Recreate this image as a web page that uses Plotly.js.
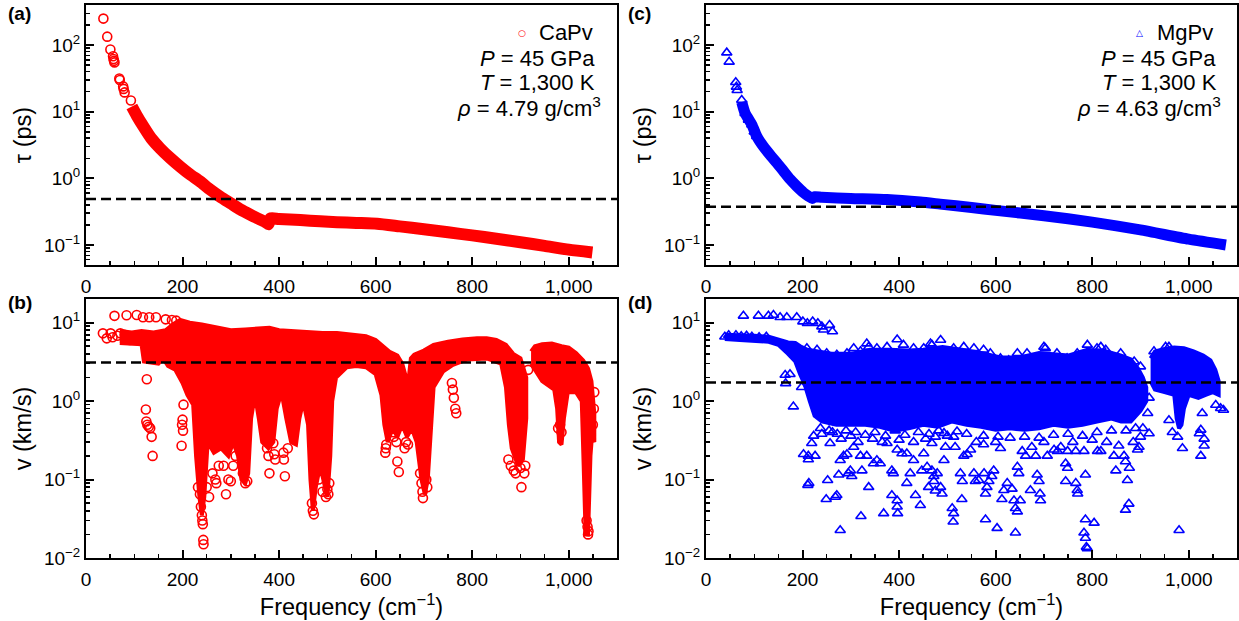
<!DOCTYPE html>
<html><head><meta charset="utf-8">
<script src="https://cdn.plot.ly/plotly-3.0.1.min.js"></script>
<style>html,body{margin:0;padding:0;background:#fff}#chart{width:1239px;height:621px}</style>
</head><body><div id="chart"></div>
<script>
// ---------- (a) CaPv lifetime ----------
const aSparseF = [36, 44, 50.5, 56, 57, 58, 59, 69, 70, 77, 78, 80, 93];
const aSparseT = [250, 134, 86, 68, 62, 58, 55, 31.6, 30, 24, 22, 19.5, 14.7];
const aCurveF = [95, 105, 119, 135, 153, 175, 195, 215, 236, 257, 278, 300, 320, 340, 361, 372, 378, 382, 400, 444, 485, 520, 560, 603, 650, 700, 750, 800, 850, 900, 950, 1000, 1049];
const aCurveT = [12, 8.8, 6.0, 4.0, 2.85, 2.0, 1.5, 1.15, 0.9, 0.68, 0.53, 0.42, 0.34, 0.285, 0.24, 0.22, 0.205, 0.25, 0.245, 0.237, 0.226, 0.22, 0.214, 0.208, 0.19, 0.172, 0.155, 0.139, 0.124, 0.11, 0.097, 0.085, 0.077];

// ---------- (c) MgPv lifetime ----------
const cSparseF = [43, 48, 61.6, 63, 64.5, 74, 81, 88, 95, 100, 105];
const cSparseT = [77, 56, 27.7, 23.6, 21, 15, 9.5, 7.5, 6.4, 5.0, 4.3];
const cCurveF = [74, 81, 95, 105, 119, 135, 147, 160, 174, 188, 202, 212, 220, 226, 240, 300, 375, 444, 485, 550, 600, 700, 800, 900, 1000, 1077];
const cCurveT = [14, 9.5, 6.4, 4.3, 3.0, 2.15, 1.7, 1.3, 0.97, 0.76, 0.61, 0.54, 0.50, 0.53, 0.52, 0.5, 0.48, 0.44, 0.41, 0.365, 0.33, 0.275, 0.22, 0.168, 0.122, 0.1];

// ---------- (b) CaPv group velocity: dense envelopes ----------
const bUp1F = [70, 95, 115, 140, 165, 180, 195, 215, 240, 270, 300, 330, 360, 380, 400, 430, 460, 490, 520, 550, 580, 600, 615, 630, 645, 655, 663, 668, 673, 680, 700, 720, 750, 780, 810, 830, 850, 870, 885, 900, 912];
const bUp1V = [7.8, 7.5, 7.8, 7.5, 8.0, 9.5, 10.8, 10.0, 9.5, 8.8, 8.0, 8.2, 8.3, 8.6, 8.0, 7.8, 7.5, 7.4, 7.4, 7.0, 6.7, 6.0, 5.0, 4.2, 3.8, 3.0, 2.0, 1.8, 3.5, 3.9, 4.4, 5.2, 5.7, 6.1, 6.3, 6.3, 6.0, 5.2, 4.0, 3.5, 2.0];
const bLo1F = [70, 115, 120, 150, 160, 170, 185, 200, 210, 222, 228, 235, 240, 245, 252, 265, 280, 295, 305, 315, 322, 330, 336, 342, 350, 358, 365, 378, 388, 395, 405, 415, 425, 435, 442, 450, 460, 465, 470, 476, 485, 492, 500, 506, 510, 518, 540, 560, 580, 600, 612, 618, 625, 635, 645, 655, 665, 675, 685, 695, 702, 708, 714, 720, 740, 760, 790, 830, 860, 870, 876, 882, 895, 905, 912];
const bLo1V = [5.5, 5.3, 3.2, 3.0, 3.5, 2.8, 2.5, 1.7, 1.2, 0.9, 0.2, 0.06, 0.035, 0.06, 0.3, 0.22, 0.25, 0.2, 0.3, 0.2, 0.1, 0.09, 0.12, 0.6, 1.2, 0.6, 0.3, 0.25, 0.3, 0.8, 1.3, 0.6, 0.3, 0.28, 0.6, 1.0, 0.5, 0.1, 0.04, 0.08, 0.15, 0.1, 0.06, 0.2, 1.0, 2.0, 2.7, 2.8, 2.7, 2.2, 1.2, 0.5, 0.3, 0.45, 0.35, 0.5, 0.35, 0.45, 0.3, 0.1, 0.065, 0.1, 0.4, 1.5, 2.4, 2.9, 3.4, 3.5, 3.0, 1.5, 0.5, 0.25, 0.15, 0.18, 0.6];
const bUp2F = [922, 930, 945, 965, 985, 1000, 1015, 1030, 1040, 1047, 1053];
const bUp2V = [4.3, 5.0, 5.3, 5.4, 5.0, 4.8, 4.1, 3.3, 2.6, 1.8, 0.7];
const bLo2F = [922, 945, 970, 976, 980, 985, 990, 998, 1015, 1027, 1031, 1035, 1040, 1045, 1048, 1053];
const bLo2V = [3.0, 1.8, 1.4, 0.8, 0.3, 0.28, 0.6, 1.3, 1.3, 1.0, 0.15, 0.02, 0.02, 0.2, 0.35, 0.3];
const bOutliers = [
 [59,12.2],[84,12.4],[105,12.5],[118,11.7],[131,11.7],[145,11.7],[165,11.0],[178,10.8],[187,10.6],
 [35,7.3],[43,6.3],[51,7.3],[55,6.5],[65,6.8],[71,7.3],[80,7.0],[91,6.0],
 [126,1.9],[124,0.78],[125,0.55],[127,0.5],[130,0.47],[133,0.45],[136,0.35],[138,0.2],
 [202,0.9],[200,0.58],[199,0.5],[201,0.42],[198,0.27],
 [232,0.08],[236,0.065],[238,0.045],[240,0.035],[241,0.03],[242,0.027],[243,0.017],[243.5,0.015],
 [250,0.08],[255,0.06],[262,0.12],[268,0.1],[270,0.09],[275,0.15],[285,0.15],[290,0.065],[295,0.1],[300,0.095],[305,0.15],[310,0.2],
 [325,0.12],[330,0.09],[334,0.095],
 [375,0.25],[378,0.2],[380,0.12],[390,0.21],[392,0.18],[388,0.29],
 [409,0.22],[410,0.18],[412,0.11],[418,0.25],
 [468,0.05],[470,0.04],[472,0.036],
 [482,0.1],[490,0.07],[497,0.06],[500,0.075],[502,0.065],[504,0.09],
 [620,0.22],[621,0.25],[622,0.28],
 [637,0.4],[638,0.35],[643,0.3],[645,0.17],[648,0.125],[660,0.25],[663,0.3],[667,0.28],
 [692,0.12],[695,0.09],[697,0.07],[698,0.058],[705,0.1],[707,0.08],
 [758,1.7],[760,1.4],[762,1.1],[765,0.8],[767,0.7],
 [875,0.18],[880,0.15],[886,0.13],[890,0.12],[900,0.14],[902,0.08],[908,0.12],[910,0.15],
 [916,2.5],
 [978,0.45],[982,0.5],[985,0.4],
 [1037,0.03],[1039,0.025],[1040,0.02],[1041,0.022],
 [1050,0.5],[1052,0.8],[1053,1.3]
];

// ---------- (d) MgPv group velocity: dense envelopes ----------
const dUp1F = [39, 70, 100, 130, 150, 170, 185, 195, 210, 230, 260, 300, 340, 380, 420, 450, 490, 530, 570, 610, 650, 690, 720, 750, 790, 830, 860, 880, 895, 905, 912];
const dUp1V = [7.0, 7.0, 6.8, 6.6, 6.0, 5.6, 5.5, 5.0, 4.5, 4.3, 4.0, 4.0, 4.5, 4.5, 4.4, 4.5, 4.9, 4.5, 4.1, 3.6, 3.6, 4.1, 4.0, 3.8, 4.5, 4.3, 3.8, 3.4, 2.6, 2.0, 1.5];
const dLo1F = [39, 70, 100, 130, 150, 170, 185, 195, 205, 215, 225, 240, 270, 300, 330, 360, 390, 420, 450, 480, 510, 540, 570, 600, 630, 660, 690, 720, 750, 780, 810, 840, 860, 880, 900, 912];
const dLo1V = [6.2, 6.0, 5.8, 5.7, 5.2, 4.0, 3.2, 2.2, 1.6, 1.0, 0.65, 0.55, 0.5, 0.5, 0.5, 0.47, 0.42, 0.45, 0.5, 0.47, 0.55, 0.5, 0.47, 0.43, 0.45, 0.43, 0.45, 0.5, 0.47, 0.5, 0.55, 0.6, 0.55, 0.55, 0.75, 1.0];
const dUp2F = [921, 930, 950, 970, 990, 1010, 1030, 1045, 1055, 1062];
const dUp2V = [3.5, 4.3, 4.6, 4.8, 4.7, 4.3, 3.8, 3.3, 2.5, 1.8];
const dLo2F = [921, 930, 950, 970, 975, 980, 985, 990, 1000, 1020, 1035, 1050, 1062];
const dLo2V = [1.8, 1.4, 1.3, 1.2, 0.6, 0.45, 0.5, 0.8, 1.2, 1.1, 1.2, 1.3, 1.2];
const dOutliers = [
 [77.5,12.2],[108.6,12.2],[129.3,12.2],[139.7,12.5],[153.5,11.7],[167.4,11.7],[188,11.7],[200.6,10.3],[210,9.8],[221,10.3],[231.7,9.8],[240,8.9],[243.4,8.1],[255.9,9.3],[262,7.7],
 [39,6.6],[47,6.9],[62,6.9],[73,6.7],[84,6.8],[95,6.6],[110,6.5],[125,6.6],
 [396,6.1],[333,5.4],[354,4.7],[486,6.0],[465,5.4],[534,4.9],[645,4.06],[665,4.06],[700,4.9],[790,5.2],[818,4.9],[859,4.06],[928,4.3],[952,4.9],[959,4.9],
 [209,4.7],[230,4.5],[250,4.06],[271,3.9],[292,4.06],[306,4.7],[320,4.3],[337,4.9],[375,4.9],[409,5.2],[430,4.7],[451,4.7],[468,5.2],
 [513,4.7],[555,4.7],[575,4.5],[589,4.06],[610,3.5],[627,3.3],[683,3.5],[703,4.7],[727,4.06],[748,3.5],[769,4.06],[810,4.7],[828,4.5],[887,3.2],[900,2.75],
 [164,2.15],[174,2.2],[165,1.68],[198,1.5],[181,0.85],[202,0.21],[212,0.2],[212,0.18],[226,0.2],[211,0.085],[213,0.09],[219,0.29],[223,0.36],
 [249,0.056],[252,0.098],[257,0.29],[268,0.06],[271,0.063],[275,0.115],[278,0.0226],[278,0.176],[285,0.2],[292,0.21],[295,0.12],[299,0.13],[302,0.11],[306,0.26],
 [320,0.2],[323,0.13],[321,0.034],[337,0.08],[333,0.2],[347,0.16],[354,0.176],[361,0.16],[368,0.037],[375,0.29],[385,0.063],[385,0.13],[388,0.12],
 [396,0.054],[396,0.045],[397,0.037],[396,0.24],[406,0.215],[416,0.215],[416,0.09],[423,0.12],[430,0.176],[434,0.063],[444,0.047],[447,0.13],
 [451,0.215],[458,0.145],[461,0.08],[468,0.29],[472,0.095],[475,0.072],[479,0.12],[468,0.13],[472,0.11],[486,0.08],[489,0.066],[496,0.26],[493,0.176],
 [513,0.35],[516,0.26],[527,0.12],[531,0.095],[510,0.043],[513,0.037],[512,0.029],[530,0.056],[534,0.2],[541,0.21],[548,0.24],[555,0.12],[558,0.095],
 [565,0.098],[576,0.12],[579,0.066],[582,0.08],[586,0.095],[579,0.031],[592,0.11],[596,0.13],[603,0.024],[613,0.056],[617,0.073],[624,0.09],
 [634,0.076],[638,0.054],[641,0.043],[645,0.039],[641,0.021],[645,0.145],[648,0.12],[651,0.054],[672,0.073],[686,0.115],[690,0.095],[692,0.066],[693,0.054],
 [683,0.2],[707,0.2],[721,0.24],[728,0.23],[749,0.23],[766,0.23],[783,0.23],[745,0.16],[749,0.14],[745,0.095],[766,0.09],[769,0.073],[770,0.066],
 [786,0.115],[786,0.031],[804,0.028],[783,0.021],[786,0.018],[788,0.0138],[790,0.0132],[811,0.23],[818,0.23],[849,0.13],[845,0.2],[866,0.2],[869,0.17],
 [873,0.098],[877,0.14],[869,0.041],[876,0.049],[894,0.24],[897,0.26],[918,0.386],[918,1.1],[915,0.7],
 [959,0.57],[966,0.4],[977,0.35],[987,0.25],[980,0.0226],[1022,0.386],[1025,0.43],[1028,0.7],[1025,0.2],[1032,0.27],[1032,0.33],[1056,0.89],[1066,0.81],[1072,0.77],[1052,1.68],
 [493,0.39],[520,0.41],[560,0.3],[575,0.28],[600,0.3],[610,0.25],[655,0.23],[662,0.2],[675,0.26],[700,0.3],[735,0.26],[760,0.3],[800,0.32],[830,0.3],[855,0.27],[885,0.3],[900,0.35],[905,0.45],
 [240,0.38],[262,0.4],[280,0.33],[300,0.36],[315,0.3],[345,0.33],[365,0.3],[400,0.32],[430,0.3],[455,0.33],[475,0.35],
 [237,0.45],[255,0.42],[272,0.38],[290,0.42],[310,0.4],[330,0.37],[350,0.4],[372,0.36],[392,0.42],[412,0.37],[440,0.4],[462,0.38],[482,0.42],
 [500,0.36],[540,0.38],[575,0.36],[605,0.35],[630,0.34],[660,0.35],[690,0.34],[720,0.37],[750,0.38],[780,0.36],[810,0.4],[840,0.42],[870,0.42],[890,0.45]
];

// thresholds (dashed lines)
const thresholds = {a: 0.49, b: 3.1, c: 0.376, d: 1.73};

// tick labels
const xTickVals = [0, 200, 400, 600, 800, 1000];
const yTickValsTau = [0.1, 1, 10, 100];
const yTickTextTau = ['10<sup>−1</sup>', '10<sup>0</sup>', '10<sup>1</sup>', '10<sup>2</sup>'];
const yTickValsV = [0.01, 0.1, 1, 10];
const yTickTextV = ['10<sup>−2</sup>', '10<sup>−1</sup>', '10<sup>0</sup>', '10<sup>1</sup>'];

// ---------- build ----------
const RED = '#ff0000', BLUE = '#0000ff';
const FONT = 'Liberation Sans, Arial, Helvetica, sans-serif';

function poly(upF, upV, loF, loV) {
  return {x: upF.concat(loF.slice().reverse()), y: upV.concat(loV.slice().reverse())};
}
function minorLog(lo, hi) {
  const v = [];
  for (let e = -3; e <= 3; e++) for (let m = 2; m <= 9; m++) {
    const t = m * Math.pow(10, e);
    if (t >= lo * 0.999 && t <= hi * 1.001) v.push(t);
  }
  return v;
}

const traces = [];
function blob(p, xa, ya, col) {
  traces.push({x: p.x, y: p.y, xaxis: xa, yaxis: ya, type: 'scatter', mode: 'lines',
    fill: 'toself', fillcolor: col, line: {color: col, width: 4}, hoverinfo: 'skip', showlegend: false});
}
// (a)
traces.push({x: aCurveF, y: aCurveT, xaxis: 'x', yaxis: 'y', mode: 'lines', line: {color: RED, width: 12, shape: 'spline', smoothing: 0.6}, showlegend: false});
traces.push({x: aSparseF, y: aSparseT, xaxis: 'x', yaxis: 'y', mode: 'markers', marker: {symbol: 'circle-open', size: 9, color: RED, line: {width: 1.6}}, showlegend: false});
// (c)
traces.push({x: cCurveF, y: cCurveT, xaxis: 'x3', yaxis: 'y3', mode: 'lines', line: {color: BLUE, width: 11, shape: 'spline', smoothing: 0.6}, showlegend: false});
traces.push({x: cSparseF, y: cSparseT, xaxis: 'x3', yaxis: 'y3', mode: 'markers', marker: {symbol: 'triangle-up-open', size: 9, color: BLUE, line: {width: 1.6}}, showlegend: false});
// (b)
blob(poly(bUp1F, bUp1V, bLo1F, bLo1V), 'x2', 'y2', RED);
blob(poly(bUp2F, bUp2V, bLo2F, bLo2V), 'x2', 'y2', RED);
traces.push({x: bOutliers.map(p => p[0]), y: bOutliers.map(p => p[1]), xaxis: 'x2', yaxis: 'y2', mode: 'markers', marker: {symbol: 'circle-open', size: 9, color: RED, line: {width: 1.6}}, showlegend: false});
// (d)
blob(poly(dUp1F, dUp1V, dLo1F, dLo1V), 'x4', 'y4', BLUE);
blob(poly(dUp2F, dUp2V, dLo2F, dLo2V), 'x4', 'y4', BLUE);
traces.push({x: dOutliers.map(p => p[0]), y: dOutliers.map(p => p[1]), xaxis: 'x4', yaxis: 'y4', mode: 'markers', marker: {symbol: 'triangle-up-open', size: 9, color: BLUE, line: {width: 1.6}}, showlegend: false});

const W = 1239, H = 621;
const colL = [86 / W, 617 / W], colR = [706 / W, 1237 / W];
const rowT = [1 - 265 / H, 1 - 5 / H], rowB = [1 - 558 / H, 1 - 299 / H];
const TICKFONT = {size: 19, color: 'black', family: FONT};
const TITLEFONT = {size: 23.5, color: 'black', family: FONT};

function xAxis(domain, anchor, withTitle) {
  const ax = {domain, anchor, range: [0, 1100], tickmode: 'array', tickvals: xTickVals, tickformat: ',d',
    showline: true, linecolor: 'black', linewidth: 2, mirror: true, ticks: 'inside', ticklen: 8, tickwidth: 2, tickcolor: 'black',
    showgrid: false, zeroline: false, tickfont: TICKFONT, ticklabelstandoff: 3,
    minor: {ticks: 'inside', ticklen: 4, tickwidth: 1.5, tickcolor: 'black', dtick: 50, tick0: 0, showgrid: false}};
  if (withTitle) ax.title = {text: 'Frequency (cm<sup>−1</sup>)', font: TITLEFONT, standoff: 5};
  return ax;
}
function yAxis(domain, anchor, lo, hi, vals, text, title) {
  return {domain, anchor, type: 'log', range: [Math.log10(lo), Math.log10(hi)], tickmode: 'array', tickvals: vals, ticktext: text,
    showline: true, linecolor: 'black', linewidth: 2, mirror: true, ticks: 'inside', ticklen: 8, tickwidth: 2, tickcolor: 'black',
    showgrid: false, zeroline: false, tickfont: TICKFONT,
    minor: {ticks: 'inside', ticklen: 4, tickwidth: 1.5, tickcolor: 'black', tickmode: 'array', tickvals: minorLog(lo, hi), showgrid: false},
    title: {text: title, font: TITLEFONT, standoff: 6}};
}

function dashed(xref, yref, y) {
  return {type: 'line', xref: xref + ' domain', x0: 0, x1: 1, yref, y0: y, y1: y, line: {color: 'black', width: 2.5, dash: '10px,5px'}};
}
function ann(text, xref, yref, x, y, opts) {
  return Object.assign({text, xref: xref + ' domain', yref: yref + ' domain', x, y, showarrow: false,
    xanchor: 'right', yanchor: 'middle', font: {size: 22, color: 'black', family: FONT}}, opts || {});
}
function label(text, x, y) {
  return {text: '<b>' + text + '</b>', xref: 'paper', yref: 'paper', x, y, showarrow: false, xanchor: 'center', yanchor: 'middle',
    font: {size: 19, color: 'black', family: FONT}};
}

const layout = {
  width: W, height: H, margin: {l: 0, r: 0, t: 0, b: 0}, paper_bgcolor: 'white', plot_bgcolor: 'white',
  font: {family: FONT, color: 'black'}, showlegend: false,
  xaxis: xAxis(colL, 'y', false),
  yaxis: yAxis(rowT, 'x', 0.05, 400, yTickValsTau, yTickTextTau, 'τ (ps)'),
  xaxis2: xAxis(colL, 'y2', true),
  yaxis2: yAxis(rowB, 'x2', 0.01, 20, yTickValsV, yTickTextV, 'v (km/s)'),
  xaxis3: xAxis(colR, 'y3', false),
  yaxis3: yAxis(rowT, 'x3', 0.05, 400, yTickValsTau, yTickTextTau, 'τ (ps)'),
  xaxis4: xAxis(colR, 'y4', true),
  yaxis4: yAxis(rowB, 'x4', 0.01, 20, yTickValsV, yTickTextV, 'v (km/s)'),
  shapes: [dashed('x', 'y', thresholds.a), dashed('x2', 'y2', thresholds.b), dashed('x3', 'y3', thresholds.c), dashed('x4', 'y4', thresholds.d)],
  annotations: [
    ann('○', 'x', 'y', 0.8205, 0.894, {xanchor: 'center', font: {size: 9, color: RED, family: 'DejaVu Sans'}}),
    ann('CaPv', 'x', 'y', 0.958, 0.894),
    ann('<i>P</i> = 45 GPa', 'x', 'y', 0.962, 0.793),
    ann('<i>T</i> = 1,300 K', 'x', 'y', 0.962, 0.703),
    ann('<i>ρ</i> = 4.79 g/cm<sup>3</sup>', 'x', 'y', 0.973, 0.607),
    ann('△', 'x3', 'y3', 0.817, 0.894, {xanchor: 'center', font: {size: 9, color: BLUE, family: 'DejaVu Sans'}}),
    ann('MgPv', 'x3', 'y3', 0.958, 0.894),
    ann('<i>P</i> = 45 GPa', 'x3', 'y3', 0.964, 0.793),
    ann('<i>T</i> = 1,300 K', 'x3', 'y3', 0.966, 0.703),
    ann('<i>ρ</i> = 4.63 g/cm<sup>3</sup>', 'x3', 'y3', 0.9736, 0.607),
    label('(a)', 20 / W, 1 - 14 / H),
    label('(b)', 20 / W, 1 - 303 / H),
    label('(c)', 640 / W, 1 - 14 / H),
    label('(d)', 640 / W, 1 - 303 / H)
  ]
};

Plotly.newPlot('chart', traces, layout, {displayModeBar: false, staticPlot: true});
</script></body></html>
